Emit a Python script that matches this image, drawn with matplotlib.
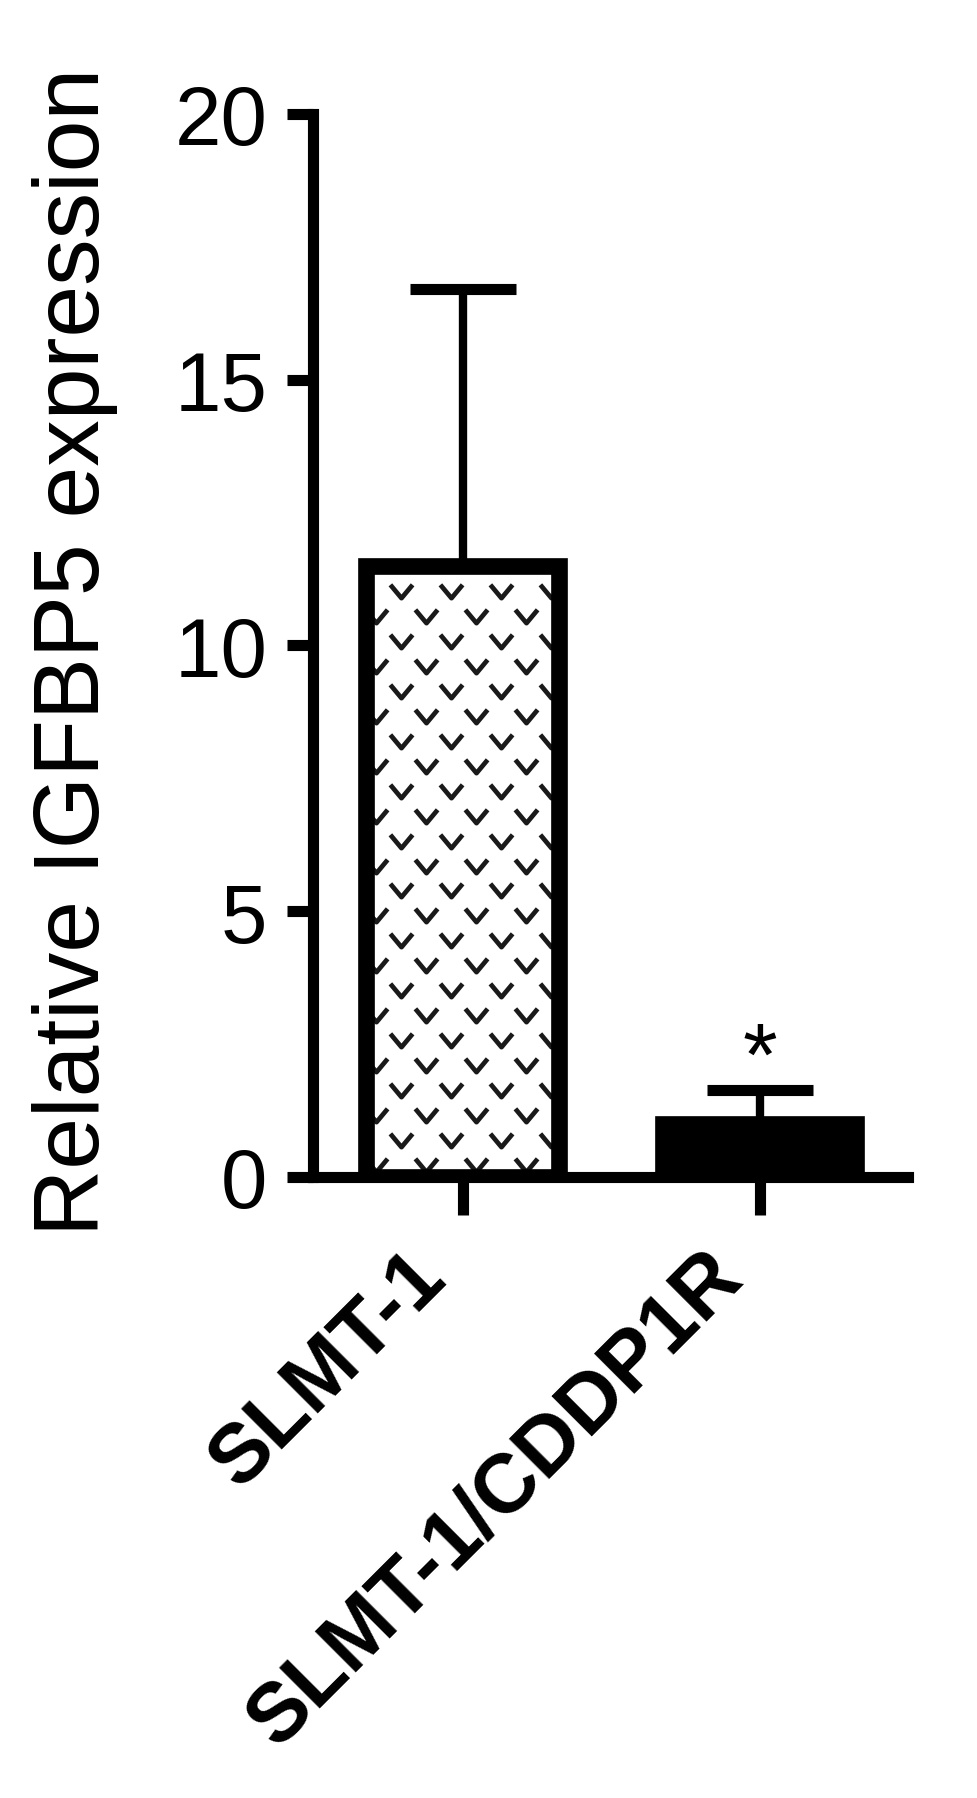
from matplotlib import pyplot as plt
from matplotlib.path import Path
from matplotlib.transforms import ScaledTranslation
import numpy as np

plt.rcParams['font.family'] = ['Liberation Sans', 'DejaVu Sans']

# data
groups = ['SLMT-1', 'SLMT-1/CDDP1R']
means = [11.5, 1.0]
sems = [5.2, 0.64]
stars = ['', '*']
yticks = [0, 5, 10, 15, 20]

x = np.arange(len(groups))
bar_w = 0.65

fig = plt.figure(figsize=(9.77, 17.99), dpi=100)
ax = fig.add_axes([0.3204, 0.3452, 0.929 - 0.3204, 0.9361 - 0.3452])

# error bars (upper only), drawn under the bars
ax.errorbar(x, means, yerr=[np.zeros(len(x)), sems], fmt='none', ecolor='black',
            elinewidth=6, capsize=38, capthick=8, zorder=1)

bars = ax.bar(x, means, bar_w, color=['white', 'black'], edgecolor='black',
              linewidth=0, zorder=2)

# "v" pattern inside the first bar, clipped to the bar
v_mark = Path([(-1, 0.6), (0, -0.6), (1, 0.6)],
              [Path.MOVETO, Path.LINETO, Path.LINETO])
b = bars[0]
dx, dy = 0.168, 0.47
rows = np.arange(1, int(means[0] / dy) + 2)
for r in rows:
    yy = means[0] - r * dy
    shift = -0.04 if r % 2 else -0.124
    xs = np.arange(x[0] + shift - 3 * dx, x[0] + bar_w, dx)
    pts, = ax.plot(xs, np.full(len(xs), yy), linestyle='none', marker=v_mark,
                   markersize=16, markerfacecolor='none', markeredgecolor='#1a1a1a',
                   markeredgewidth=3.4, zorder=3)
    pts.set_clip_path(b)

# bar outlines on top
ax.bar(x, means, bar_w, fill=False, edgecolor='black', linewidth=12, zorder=4)

for xi, m, s, st in zip(x, means, sems, stars):
    if st:
        ax.text(xi, m + s + 0.12, st, ha='center', va='baseline', fontsize=64)

ax.set_xlim(-0.505, 1.498)
ax.set_ylim(0, 20)
ax.set_yticks(yticks)
ax.set_xticks(x)
ax.set_xticklabels(groups, rotation=45, ha='right', va='center',
                   rotation_mode='anchor', fontsize=60, fontweight='bold')
ax.tick_params(axis='y', labelsize=60, length=19, width=8, pad=14)
ax.tick_params(axis='x', length=27, width=8, pad=40)
offset = ScaledTranslation(-0.30, 0.06, fig.dpi_scale_trans)
for lab in ax.get_xticklabels():
    lab.set_transform(lab.get_transform() + offset)

for side in ['top', 'right']:
    ax.spines[side].set_visible(False)
for side in ['left', 'bottom']:
    ax.spines[side].set_linewidth(8)

ax.set_ylabel('Relative IGFBP5 expression', fontsize=67, va='center')
ax.yaxis.set_label_coords(-0.40, 0.495)

plt.savefig('out.png', dpi=100)
